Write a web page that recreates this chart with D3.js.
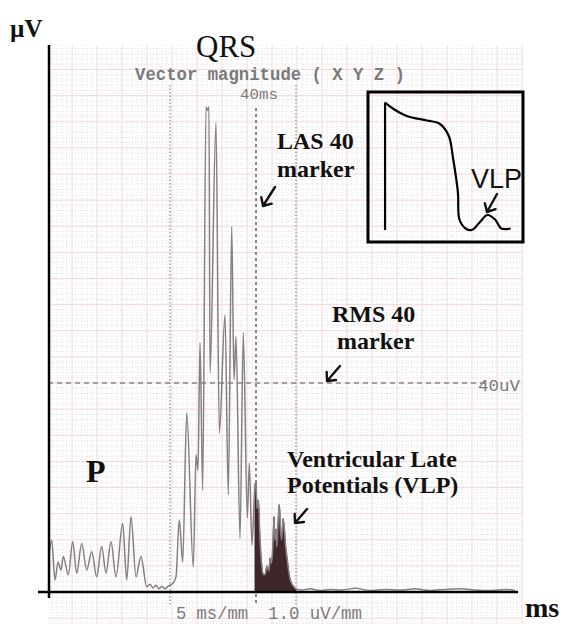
<!DOCTYPE html>
<html>
<head>
<meta charset="utf-8">
<script src="https://cdn.jsdelivr.net/npm/d3@7"></script>
<style>
  body { margin: 0; background: #fff; }
  svg { display: block; }
  .lbl { font-family: "Liberation Serif", "Times New Roman", serif; font-weight: bold; fill: #111; }
  .mono { font-family: "Liberation Mono", "DejaVu Sans Mono", monospace; fill: #7a7a7a; }
</style>
</head>
<body>
<div id="vis"></div>
<script>
// dimensions of the picture
var width = 567;
var height = 624;

// signal-averaged vector magnitude, time in ms from QRS onset, amplitude in uV
var signalTime = [-121, -118.3, -115, -112, -109, -106.7, -101.7, -97.3, -93.3, -88.3, -83.3,
  -78.3, -73.3, -68.3, -64, -59, -54, -47.3, -43.3, -39, -34, -29, -23.3, -20, -17, -14,
  -11, -8, -5, -2, 0,
  3, 6, 9.3, 12.7, 16.7, 23.3, 26, 28, 30, 32.7, 36, 37.5, 39, 40, 46, 49.3, 55, 58.3,
  61.7, 64, 66, 70, 73.3, 77.3, 79.3, 82,
  85, 86, 87, 88.3, 90, 91.7, 93, 95, 97, 99, 100, 101.5, 103, 104, 105, 106, 106.7, 108,
  109.3, 110.5, 111.7, 113, 114.3, 115.5, 116.7, 118, 120, 123, 126,
  132, 140, 150, 160, 172, 185, 200, 215, 230, 245, 260, 275, 290, 305, 320, 335, 345];
var signalVolt = [7.1, 9.9, 2.3, 5.7, 4.2, 6.8, 3.3, 9.6, 3.6, 9.3, 4.2,
  7.7, 2.9, 8.7, 3.6, 9.6, 2.9, 13.1, 2.3, 14.4, 2.9, 6.8, 1.0, 1.5, 0.8, 1.3,
  0.6, 1.1, 0.6, 1.1, 1.3,
  1.7, 2.9, 13.8, 5.7, 34.3, 4.8, 26.2, 23.3, 47.7, 19.5, 92.8, 92.2, 92.8, 41.9, 89.8, 30.4, 53, 18.6,
  69.9, 40.6, 48.8, 10.3, 49.6, 14.2, 24.7, 9,
  20.5, 21, 16, 17.6, 10, 5.2, 3.5, 3.3, 5, 4, 6.5, 5.5, 9.4, 14.4, 10, 12, 8.6, 13,
  16.7, 12, 10, 14, 12.2, 9, 7, 5, 2.5, 1.2, 0.6,
  0.4, 0.6, 0.3, 0.5, 0.4, 0.7, 0.3, 0.5, 0.4, 0.6, 0.3, 0.5, 0.6, 0.4, 0.3, 0.5, 0.3];

// markers
var qrsOnset = 0;      // ms
var las40 = 86;        // ms, 40 ms before QRS end
var qrsEnd = 126;      // ms
var rms40 = 40;        // uV
var vlpStart = 85;     // start of the filled late potentials

// inset action potential, in box fractions
var apX = [0.11, 0.16, 0.25, 0.38, 0.46, 0.52, 0.55, 0.58, 0.59, 0.63, 0.67, 0.72, 0.77, 0.82, 0.86, 0.92];
var apY = [0.93, 0.89, 0.84, 0.81, 0.79, 0.71, 0.55, 0.33, 0.15, 0.09, 0.08, 0.13, 0.18, 0.15, 0.09, 0.09];

var svg = d3.select("#vis").append("svg")
  .attr("width", width)
  .attr("height", height);

// scales: 1 px per ms, 1 uV per 5.225 px
var x = d3.scaleLinear().domain([-122, 353]).range([48, 523]);
var y = d3.scaleLinear().domain([0, 40]).range([592, 383]);

// ---- grid paper
var grid = svg.append("g");
var vTicks = d3.range(-118, 354, 5);
var hTicks = d3.range(-6, 105, 1);

grid.selectAll(".vminor").data(vTicks).enter().append("line")
  .attr("x1", d => x(d)).attr("x2", d => x(d))
  .attr("y1", y(104.7)).attr("y2", height)
  .attr("stroke", d => ((d - 2) % 25 === 0) ? "#f4d8d8" : "#e6dfe1")
  .attr("stroke-width", 1)
  .attr("stroke-dasharray", d => ((d - 2) % 25 === 0) ? null : "1,2");

grid.selectAll(".hminor").data(hTicks).enter().append("line")
  .attr("x1", 48).attr("x2", 523)
  .attr("y1", d => y(d)).attr("y2", d => y(d))
  .attr("stroke", d => (d % 5 === 0) ? "#f4d8d8" : "#e6dfe1")
  .attr("stroke-width", 1)
  .attr("stroke-dasharray", d => (d % 5 === 0) ? null : "1,2");

// ---- marker lines
svg.append("line")
  .attr("x1", x(qrsOnset)).attr("x2", x(qrsOnset))
  .attr("y1", 85).attr("y2", 606)
  .attr("stroke", "#a0a0a0").attr("stroke-width", 1.5).attr("stroke-dasharray", "1.5,2");
svg.append("line")
  .attr("x1", x(qrsEnd)).attr("x2", x(qrsEnd))
  .attr("y1", 85).attr("y2", 606)
  .attr("stroke", "#a0a0a0").attr("stroke-width", 1.5).attr("stroke-dasharray", "1.5,2");
svg.append("line")
  .attr("x1", x(las40)).attr("x2", x(las40))
  .attr("y1", 108).attr("y2", 606)
  .attr("stroke", "#888").attr("stroke-width", 2).attr("stroke-dasharray", "3,3");
svg.append("line")
  .attr("x1", 48).attr("x2", 488)
  .attr("y1", y(rms40)).attr("y2", y(rms40))
  .attr("stroke", "#888").attr("stroke-width", 1.5).attr("stroke-dasharray", "5,4");

// ---- signal
var pts = signalTime.map((t, i) => ({ t: t, v: signalVolt[i] }));

var area = d3.area()
  .x(d => x(d.t))
  .y0(y(0))
  .y1(d => y(d.v))
  .curve(d3.curveMonotoneX);
svg.append("path")
  .datum(pts.filter(d => d.t >= vlpStart && d.t <= qrsEnd))
  .attr("d", area)
  .attr("fill", "#3e2629")
  .attr("stroke", "#3e2629")
  .attr("stroke-width", 1);

var line = d3.line()
  .x(d => x(d.t))
  .y(d => y(d.v))
  .curve(d3.curveMonotoneX);
svg.append("path")
  .datum(pts)
  .attr("d", line)
  .attr("fill", "none")
  .attr("stroke", "#857e85")
  .attr("stroke-width", 1.5);

// ---- axes
svg.append("line")
  .attr("x1", x(-121)).attr("x2", x(-121))
  .attr("y1", 45).attr("y2", 598)
  .attr("stroke", "#000").attr("stroke-width", 2.5);
svg.append("line")
  .attr("x1", x(-132)).attr("x2", x(348))
  .attr("y1", y(0)).attr("y2", y(0))
  .attr("stroke", "#000").attr("stroke-width", 2.5);

// ---- printed texts
function mono(txt, px, py, size, len, bold) {
  svg.append("text").attr("class", "mono")
    .attr("x", px).attr("y", py)
    .style("font-size", size + "px")
    .style("font-weight", bold ? "bold" : "normal")
    .attr("textLength", len)
    .attr("lengthAdjust", "spacingAndGlyphs")
    .text(txt);
}
mono("Vector magnitude ( X Y Z )", 135, 80, 18, 270, true);
mono("40ms", 240, 99, 15, 38);
mono("40uV", 478, 391, 17, 42);
mono("5 ms/mm", 176, 619, 19, 72);
mono("1.0 uV/mm", 268, 619, 19, 94);

// ---- annotation labels
function label(txt, px, py, size, weight) {
  svg.append("text").attr("class", "lbl")
    .attr("x", px).attr("y", py)
    .style("font-size", size + "px")
    .style("font-weight", weight || "bold")
    .text(txt);
}
label("\u00b5V", 10, 37, 25);
label("QRS", 196, 57, 31, "normal");
label("LAS 40", 277, 149, 24);
label("marker", 277, 177, 24);
label("RMS 40", 332, 322, 24);
label("marker", 337, 349, 24);
label("P", 86, 482, 32);
label("Ventricular Late", 287, 467, 24);
label("Potentials (VLP)", 287, 493, 24);
label("ms", 525, 617, 28);

// hand drawn arrows: tail -> tip
function arrow(x0, y0, x1, y1) {
  var a = Math.atan2(y0 - y1, x0 - x1);
  var h = 9;
  var p = d3.path();
  p.moveTo(x0, y0); p.lineTo(x1, y1);
  p.moveTo(x1 + h * Math.cos(a - 0.75), y1 + h * Math.sin(a - 0.75));
  p.lineTo(x1, y1);
  p.lineTo(x1 + h * Math.cos(a + 0.75), y1 + h * Math.sin(a + 0.75));
  svg.append("path").attr("d", p.toString())
    .attr("fill", "none").attr("stroke", "#111")
    .attr("stroke-width", 2.4).attr("stroke-linecap", "round").attr("stroke-linejoin", "round");
}
arrow(275, 187, 263, 206);
arrow(340, 366, 327, 381);
arrow(307, 509, 295, 523);

// ---- inset box
var bx = d3.scaleLinear().domain([0, 1]).range([368, 523]);
var by = d3.scaleLinear().domain([0, 1]).range([242, 92]);
svg.append("rect")
  .attr("x", bx(0)).attr("y", by(1))
  .attr("width", bx(1) - bx(0)).attr("height", by(0) - by(1))
  .attr("fill", "none").attr("stroke", "#000").attr("stroke-width", 3);

var ap = apX.map((v, i) => [v, apY[i]]);
svg.append("path")
  .attr("d", d3.line()([[bx(ap[0][0]), by(0.08)], [bx(ap[0][0]), by(ap[0][1])]]))
  .attr("fill", "none").attr("stroke", "#000").attr("stroke-width", 2.2);
svg.append("path")
  .datum(ap)
  .attr("d", d3.line().x(d => bx(d[0])).y(d => by(d[1])).curve(d3.curveCatmullRom.alpha(0.5)))
  .attr("fill", "none").attr("stroke", "#000").attr("stroke-width", 2.2);

svg.append("text")
  .attr("x", 471).attr("y", 188)
  .style("font-family", "'Liberation Sans', Arial, sans-serif")
  .style("font-size", "27px")
  .attr("fill", "#111")
  .text("VLP");
arrow(497, 194, 487, 212);
</script>
</body>
</html>
